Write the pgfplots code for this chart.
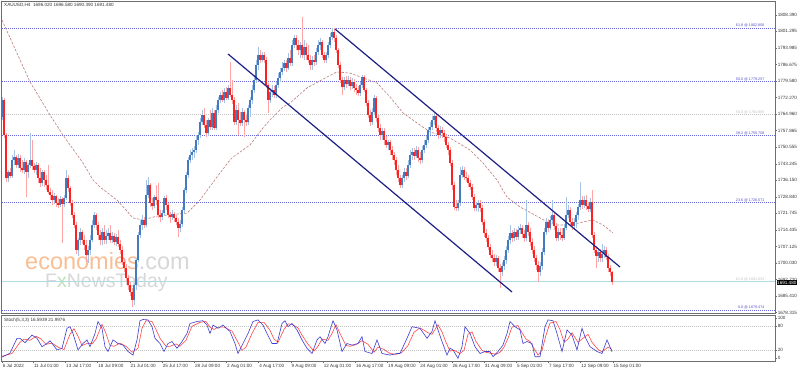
\documentclass[border=0pt]{standalone}
\usepackage{pgfplots}
\usepackage{pgfplotstable}
\pgfplotsset{compat=1.18}
\usepackage{fontspec}
\setmainfont{Liberation Sans}

\definecolor{bullc}{RGB}{70,122,190}
\definecolor{bullw}{RGB}{165,195,228}
\definecolor{bearc}{RGB}{255,32,32}
\definecolor{bearw}{RGB}{255,165,165}
\definecolor{fibc}{RGB}{105,105,215}
\definecolor{fibt}{RGB}{80,80,200}
\definecolor{fibg}{RGB}{195,195,195}
\definecolor{fibcy}{RGB}{175,220,228}
\definecolor{chan}{RGB}{30,30,135}
\definecolor{mac}{RGB}{190,125,125}
\definecolor{stk}{RGB}{60,60,210}
\definecolor{std}{RGB}{255,70,70}
\definecolor{frm}{RGB}{110,110,110}
\definecolor{txt}{RGB}{55,55,55}
\definecolor{wmor}{RGB}{250,190,148}
\definecolor{wmgr}{RGB}{215,215,215}
\definecolor{wmgn}{RGB}{190,225,190}

\pgfplotstableread{
i O H L C
0 1763.8 1772.6 1762.5 1771.2
3 1737.1 1740.6 1735.4 1739.8
5 1738.0 1747.2 1737.1 1745.0
6 1745.0 1749.4 1742.8 1746.3
8 1742.8 1747.6 1741.5 1745.9
11 1740.6 1745.9 1738.9 1744.1
13 1739.8 1743.7 1737.1 1742.8
14 1742.8 1756.8 1741.5 1745.0
17 1740.6 1744.1 1738.5 1742.8
20 1735.0 1740.6 1733.7 1739.8
26 1727.5 1730.6 1725.8 1729.3
29 1725.3 1729.3 1724.5 1728.0
31 1725.8 1729.7 1724.5 1728.4
32 1728.4 1740.6 1727.5 1737.1
38 1705.7 1710.9 1703.1 1710.1
39 1710.1 1715.3 1707.9 1713.6
43 1703.5 1707.4 1700.0 1705.7
44 1705.7 1712.2 1703.5 1710.1
45 1710.1 1718.8 1709.2 1716.6
46 1716.6 1722.3 1715.3 1721.0
50 1710.1 1715.3 1707.9 1713.6
52 1710.1 1714.4 1708.3 1711.8
53 1711.8 1715.3 1710.1 1713.1
55 1710.1 1713.5 1708.7 1711.8
57 1709.2 1712.7 1707.4 1711.4
66 1683.8 1691.3 1681.6 1690.4
67 1690.4 1702.2 1688.2 1701.3
68 1701.3 1713.5 1700.4 1712.2
69 1712.2 1718.8 1710.9 1716.6
70 1716.6 1721.0 1714.4 1718.8
72 1716.6 1736.3 1715.7 1729.7
73 1729.7 1737.6 1728.4 1734.1
76 1724.9 1729.7 1724.0 1728.8
80 1720.1 1723.2 1718.8 1721.9
81 1721.9 1729.3 1720.5 1728.4
85 1720.1 1723.2 1718.8 1721.4
89 1715.3 1718.8 1713.5 1717.0
90 1717.0 1724.5 1715.7 1723.2
91 1723.2 1732.8 1721.9 1731.9
92 1731.9 1739.8 1730.6 1738.5
93 1738.5 1746.3 1737.1 1745.0
94 1745.0 1749.4 1743.7 1747.2
95 1747.2 1750.3 1745.0 1748.5
96 1748.5 1751.1 1745.9 1749.4
97 1749.4 1755.9 1748.1 1753.8
98 1753.8 1757.3 1751.6 1755.9
99 1755.9 1763.4 1754.6 1761.6
100 1761.6 1766.9 1760.3 1764.7
103 1756.8 1763.4 1755.5 1762.5
105 1759.4 1767.7 1758.1 1765.6
107 1759.0 1769.0 1758.1 1766.9
108 1766.9 1772.6 1765.6 1771.2
109 1771.2 1774.7 1769.9 1773.4
111 1771.2 1776.5 1769.9 1774.7
113 1772.1 1777.8 1771.2 1776.5
117 1761.6 1769.0 1760.3 1766.9
120 1761.2 1767.7 1759.9 1766.0
123 1761.6 1769.0 1760.3 1767.7
124 1767.7 1772.6 1763.8 1771.2
125 1771.2 1777.8 1769.5 1775.6
126 1775.6 1782.2 1774.3 1780.0
127 1780.0 1788.7 1778.7 1786.5
128 1786.5 1794.4 1784.4 1790.9
130 1788.7 1792.2 1787.9 1790.9
134 1771.2 1776.5 1769.9 1774.7
135 1774.7 1777.8 1772.6 1775.6
137 1773.4 1779.1 1772.1 1777.8
138 1777.8 1783.0 1776.5 1780.9
139 1780.9 1785.2 1779.1 1783.5
140 1783.5 1787.9 1782.2 1785.2
141 1785.2 1788.7 1783.9 1787.4
143 1785.2 1791.8 1784.4 1789.6
145 1787.4 1797.5 1786.1 1795.3
146 1795.3 1799.7 1794.0 1798.3
149 1793.1 1796.6 1789.6 1795.3
151 1790.9 1797.5 1788.7 1794.4
155 1786.5 1790.5 1784.4 1788.7
157 1787.9 1794.0 1786.5 1792.2
158 1792.2 1797.5 1790.9 1795.3
159 1795.3 1798.3 1793.1 1796.6
162 1788.7 1792.2 1787.4 1790.9
163 1790.9 1796.6 1789.6 1795.3
164 1795.3 1800.5 1793.9 1798.8
165 1798.8 1802.7 1797.5 1801.0
171 1776.9 1781.3 1775.6 1780.0
173 1778.2 1781.7 1777.4 1780.0
175 1777.4 1780.9 1776.0 1779.1
179 1774.3 1779.1 1773.0 1777.8
180 1777.8 1782.2 1776.5 1781.3
185 1761.6 1767.7 1760.3 1766.0
186 1766.0 1773.4 1764.7 1772.1
190 1755.9 1759.0 1753.8 1757.7
193 1751.6 1753.8 1749.4 1752.9
200 1734.1 1738.5 1732.8 1737.1
201 1737.1 1741.5 1735.4 1739.8
203 1738.0 1745.0 1737.1 1742.8
204 1742.8 1749.4 1741.5 1747.2
205 1747.2 1750.3 1745.0 1748.5
207 1746.8 1751.1 1745.9 1749.4
210 1745.0 1751.1 1743.7 1749.4
211 1749.4 1753.8 1748.1 1751.6
212 1751.6 1755.5 1750.3 1753.8
213 1753.8 1759.4 1752.5 1758.1
214 1758.1 1761.6 1755.9 1759.4
215 1759.4 1764.2 1758.1 1762.5
216 1762.5 1765.6 1760.3 1764.2
219 1755.9 1759.9 1754.6 1758.1
228 1724.0 1727.5 1722.7 1726.2
229 1726.2 1742.0 1724.9 1738.5
230 1738.5 1742.4 1737.1 1740.6
237 1724.0 1726.7 1722.7 1725.3
238 1725.3 1727.5 1722.3 1726.2
247 1700.4 1703.5 1698.7 1702.2
250 1696.1 1700.4 1694.3 1698.7
251 1698.7 1703.1 1696.9 1701.3
252 1701.3 1707.4 1699.6 1705.7
253 1705.7 1711.8 1704.4 1710.1
254 1710.1 1716.6 1708.3 1713.1
256 1710.9 1715.3 1709.6 1713.5
258 1711.4 1716.2 1710.1 1714.4
259 1714.4 1717.0 1712.7 1715.3
262 1710.9 1727.5 1709.6 1716.6
269 1696.1 1700.4 1694.3 1698.7
270 1698.7 1706.6 1696.9 1704.8
271 1704.8 1715.3 1703.5 1713.5
272 1713.5 1719.7 1712.2 1717.9
274 1715.3 1720.5 1714.4 1718.8
275 1718.8 1727.5 1717.0 1721.0
278 1710.9 1715.3 1709.6 1713.5
281 1710.9 1717.0 1710.1 1715.3
282 1715.3 1728.8 1714.4 1721.0
283 1721.0 1725.3 1719.7 1723.2
286 1716.2 1719.7 1714.4 1717.9
287 1717.9 1722.3 1715.3 1721.0
288 1721.0 1725.8 1718.8 1724.5
289 1724.5 1735.4 1723.2 1727.5
291 1725.3 1729.3 1724.0 1727.5
294 1723.6 1728.4 1722.3 1726.7
298 1703.1 1706.6 1700.4 1704.8
300 1702.2 1708.3 1700.4 1703.9
301 1703.9 1707.4 1702.2 1705.7
}\bull

\pgfplotstableread{
i O H L C
1 1771.2 1772.1 1754.6 1755.9
2 1755.9 1756.8 1735.4 1737.1
4 1739.8 1741.5 1737.1 1738.0
7 1746.3 1747.2 1741.5 1742.8
9 1745.9 1747.2 1739.8 1741.5
10 1741.5 1745.0 1739.3 1740.6
12 1744.1 1745.0 1728.8 1739.8
15 1745.0 1753.8 1740.6 1742.4
16 1742.4 1743.7 1739.3 1740.6
18 1742.8 1743.7 1735.0 1737.1
19 1737.1 1741.5 1733.2 1735.0
21 1739.8 1740.6 1733.2 1736.3
22 1736.3 1738.5 1731.9 1734.1
23 1734.1 1742.8 1730.1 1731.0
24 1731.0 1732.8 1727.5 1729.7
25 1729.7 1731.9 1725.3 1727.5
27 1729.3 1729.7 1724.5 1726.2
28 1726.2 1728.4 1724.0 1725.3
30 1728.0 1728.8 1708.7 1725.8
33 1737.1 1738.5 1731.0 1732.8
34 1732.8 1733.7 1724.9 1726.2
35 1726.2 1727.5 1719.7 1721.0
36 1721.0 1722.3 1715.3 1716.6
37 1716.6 1717.9 1703.9 1705.7
40 1713.6 1714.4 1708.3 1710.1
41 1710.1 1712.2 1705.7 1707.9
42 1707.9 1710.1 1700.4 1703.5
47 1721.0 1721.9 1714.4 1716.6
48 1716.6 1717.9 1710.1 1712.2
49 1712.2 1714.4 1707.9 1710.1
51 1713.6 1716.6 1708.3 1710.1
54 1713.1 1716.6 1708.7 1710.1
56 1711.8 1713.1 1707.9 1709.2
58 1711.4 1714.4 1707.0 1708.3
59 1708.3 1710.1 1703.9 1705.7
60 1705.7 1707.4 1699.1 1700.4
61 1700.4 1702.2 1696.1 1697.8
62 1697.8 1699.5 1691.7 1693.4
63 1693.4 1694.7 1688.2 1690.4
64 1690.4 1691.7 1685.6 1687.3
65 1687.3 1689.1 1680.8 1683.8
71 1718.8 1720.1 1715.3 1716.6
74 1734.1 1735.0 1724.5 1726.2
75 1726.2 1728.4 1723.2 1724.9
77 1728.8 1734.1 1725.3 1727.5
78 1727.5 1735.0 1719.7 1721.0
79 1721.0 1723.2 1717.9 1720.1
82 1728.4 1729.7 1723.2 1725.3
83 1725.3 1726.2 1719.7 1721.0
84 1721.0 1722.3 1717.5 1720.1
86 1721.4 1722.3 1717.9 1719.7
87 1719.7 1721.0 1716.6 1717.9
88 1717.9 1719.7 1711.4 1715.3
101 1764.7 1767.7 1759.0 1760.3
102 1760.3 1762.5 1755.1 1756.8
104 1762.5 1766.9 1758.1 1759.4
106 1765.6 1766.9 1758.1 1759.0
110 1773.4 1775.6 1770.4 1771.2
112 1774.7 1776.9 1771.2 1772.1
114 1776.5 1787.9 1772.6 1773.4
115 1773.4 1780.0 1769.5 1771.2
116 1771.2 1772.6 1760.3 1761.6
118 1766.9 1769.9 1755.9 1762.5
119 1762.5 1766.0 1759.9 1761.2
121 1766.0 1766.9 1755.1 1762.5
122 1762.5 1764.7 1759.9 1761.6
129 1790.9 1793.1 1787.4 1788.7
131 1790.9 1792.2 1787.4 1788.7
132 1788.7 1790.0 1776.5 1777.8
133 1777.8 1778.7 1765.6 1771.2
136 1775.6 1777.4 1772.1 1773.4
142 1787.4 1788.7 1783.5 1785.2
144 1789.6 1793.1 1786.1 1787.4
147 1798.3 1799.7 1793.1 1795.3
148 1795.3 1797.5 1790.9 1793.1
150 1795.3 1807.5 1789.6 1790.9
152 1794.4 1796.2 1788.7 1790.9
153 1790.9 1795.3 1787.4 1788.7
154 1788.7 1790.9 1784.4 1786.5
156 1788.7 1790.9 1786.1 1787.9
160 1796.6 1797.5 1789.6 1790.9
161 1790.9 1792.2 1787.4 1788.7
166 1801.0 1802.7 1796.6 1798.3
167 1798.3 1799.7 1791.8 1793.1
168 1793.1 1794.0 1785.2 1786.5
169 1786.5 1787.9 1778.7 1780.0
170 1780.0 1781.3 1773.4 1776.9
172 1780.0 1781.7 1776.5 1778.2
174 1780.0 1781.3 1775.6 1777.4
176 1779.1 1780.4 1774.7 1776.5
177 1776.5 1778.2 1773.4 1775.6
178 1775.6 1777.4 1773.0 1774.3
181 1781.3 1782.2 1774.7 1775.6
182 1775.6 1776.5 1768.6 1769.9
183 1769.9 1771.2 1763.4 1764.7
184 1764.7 1766.9 1759.9 1761.6
187 1772.1 1773.0 1761.6 1763.4
188 1763.4 1764.7 1757.3 1759.0
189 1759.0 1760.7 1753.8 1755.9
191 1757.7 1759.0 1751.6 1753.8
192 1753.8 1755.5 1750.3 1751.6
194 1752.9 1753.8 1747.2 1749.4
195 1749.4 1751.1 1745.0 1747.2
196 1747.2 1748.5 1742.8 1745.0
197 1745.0 1746.3 1738.5 1740.6
198 1740.6 1742.8 1735.4 1737.1
199 1737.1 1738.5 1732.8 1734.1
202 1739.8 1741.5 1736.3 1738.0
206 1748.5 1750.3 1745.0 1746.8
208 1749.4 1750.7 1744.1 1745.9
209 1745.9 1748.5 1743.3 1745.0
217 1764.2 1765.6 1757.3 1759.0
218 1759.0 1760.3 1754.2 1755.9
220 1758.1 1759.4 1754.6 1756.8
221 1756.8 1758.1 1752.9 1755.1
222 1755.1 1756.4 1750.3 1751.6
223 1751.6 1752.9 1747.2 1749.4
224 1749.4 1750.7 1742.4 1743.7
225 1743.7 1745.0 1731.9 1734.1
226 1734.1 1735.4 1723.2 1724.5
227 1724.5 1727.5 1722.7 1724.0
231 1740.6 1742.0 1736.3 1737.6
232 1737.6 1739.8 1735.4 1737.1
233 1737.1 1738.5 1733.2 1735.0
234 1735.0 1736.3 1731.9 1733.2
235 1733.2 1734.5 1727.5 1728.8
236 1728.8 1730.2 1722.7 1724.0
239 1726.2 1727.5 1722.3 1724.0
240 1724.0 1725.3 1716.6 1717.9
241 1717.9 1719.2 1711.4 1713.1
242 1713.1 1714.9 1709.2 1710.9
243 1710.9 1712.2 1705.7 1707.0
244 1707.0 1708.3 1702.2 1703.5
245 1703.5 1705.7 1700.4 1702.2
246 1702.2 1703.9 1698.7 1700.4
248 1702.2 1703.1 1696.1 1697.8
249 1697.8 1699.5 1689.1 1696.1
255 1713.1 1714.4 1709.2 1710.9
257 1713.5 1714.9 1710.1 1711.4
260 1715.3 1716.6 1710.9 1712.7
261 1712.7 1714.4 1709.2 1710.9
263 1716.6 1717.9 1711.8 1713.5
264 1713.5 1715.3 1707.4 1709.2
265 1709.2 1710.9 1703.9 1705.7
266 1705.7 1707.4 1700.4 1702.2
267 1702.2 1703.5 1696.9 1699.1
268 1699.1 1700.9 1691.7 1696.1
273 1717.9 1719.2 1713.5 1715.3
276 1721.0 1722.3 1714.4 1716.2
277 1716.2 1717.5 1709.6 1710.9
279 1713.5 1715.3 1710.1 1712.2
280 1712.2 1715.3 1709.6 1710.9
284 1723.2 1724.5 1716.2 1717.9
285 1717.9 1719.7 1714.4 1716.2
290 1727.5 1729.3 1723.6 1725.3
292 1727.5 1729.7 1723.2 1724.9
293 1724.9 1726.7 1722.3 1723.6
295 1726.7 1731.9 1710.9 1712.2
296 1712.2 1713.5 1704.4 1705.7
297 1705.7 1707.4 1697.8 1703.1
299 1704.8 1706.1 1700.4 1702.2
302 1705.7 1707.0 1701.3 1702.6
303 1702.6 1703.9 1696.1 1697.8
304 1697.8 1699.1 1694.3 1696.1
305 1696.02 1696.58 1690.39 1691.48
}\bear

\newcommand{\smallf}{\fontsize{4.6}{5}\selectfont}
\newcommand{\fibf}{\fontsize{3.7}{4}\selectfont}

\begin{document}
\begin{tikzpicture}[x=1pt,y=1pt]
\fill[white] (0,0) rectangle (800,372);
% watermark
\node[anchor=base west, inner sep=0, font=\fontsize{23.5}{24}\selectfont] at (25,102) {\textcolor{wmor}{economies}\textcolor{wmgr}{.com}};
\node[anchor=base west, inner sep=0, font=\fontsize{19.5}{20}\selectfont, text=wmgr] at (45,84.5) {F\textcolor{wmgn}{x}NewsToday};

\begin{axis}[at={(1.5pt,58.5pt)}, anchor=south west, scale only axis,
  width=773.5pt, height=312.5pt,
  xmin=-0.25, xmax=386.5, ymin=1677.92, ymax=1814.51,
  axis line style={frm, line width=0.8pt},
  xtick=\empty,
  ytick={1678.315,1685.410,1692.720,1700.030,1707.125,1714.435,1721.745,1728.840,1736.150,1743.245,1750.555,1757.865,1764.960,1772.270,1779.580,1786.675,1793.985,1801.295,1808.390},
  yticklabels={1678.315,1685.410,1692.720,1700.030,1707.125,1714.435,1721.745,1728.840,1736.150,1743.245,1750.555,1757.865,1764.960,1772.270,1779.580,1786.675,1793.985,1801.295,1808.390},
  ytick pos=right, yticklabel pos=right, ytick align=outside,
  major tick length=2pt, tick style={frm, line width=0.5pt},
  yticklabel style={font=\smallf, text=txt, anchor=west, inner sep=0.6pt},
  clip=true]
% fib levels
\addplot[fibc, line width=0.5pt, dash pattern=on 0.6pt off 1.4pt] coordinates {(-0.2,1802.806) (386.4,1802.806)};
\addplot[fibc, line width=0.5pt, dash pattern=on 0.6pt off 1.4pt] coordinates {(-0.2,1779.257) (386.4,1779.257)};
\addplot[fibg, line width=0.5pt, dash pattern=on 0.6pt off 1.4pt] coordinates {(-0.2,1764.985) (386.4,1764.985)};
\addplot[fibc, line width=0.5pt, dash pattern=on 0.6pt off 1.4pt] coordinates {(-0.2,1755.708) (386.4,1755.708)};
\addplot[fibc, line width=0.5pt, dash pattern=on 0.6pt off 1.4pt] coordinates {(-0.2,1726.571) (386.4,1726.571)};
\addplot[fibcy, line width=0.5pt] coordinates {(-0.2,1691.853) (386.4,1691.853)};
\addplot[fibc, line width=0.5pt, dash pattern=on 0.6pt off 1.4pt] coordinates {(-0.2,1679.474) (386.4,1679.474)};
% moving average
\addplot[mac, line width=0.6pt, dash pattern=on 2.5pt off 1.5pt] coordinates {
(0,1806.2) (14,1779.1) (16.5,1775.6) (24,1764.7) (30.5,1755.9) (40.5,1743.7) (45.5,1736.3) (49,1733.2) (55.5,1728.8) (57.5,1727.5) (65.5,1719.7) (70.5,1718.8) (77.5,1720.5) (92.5,1721.8) (99,1727.5) (107.5,1737.6) (114,1745.0) (115.5,1746.3) (124,1751.6) (130.5,1759.0) (134,1762.5) (140.5,1768.2) (144,1769.9) (152.5,1776.5) (162.5,1781.3) (167.5,1783.5) (174,1783.0) (180.5,1780.9) (187.5,1778.7) (194,1772.6) (200.5,1765.6) (207.5,1761.2) (214,1757.3) (220.5,1755.5) (224,1754.6) (234,1749.4) (240.5,1743.7) (247.5,1736.3) (252.5,1728.8) (259,1724.5) (269,1719.7) (275.5,1716.6) (284,1716.6) (290.5,1717.9) (295.5,1718.8) (300.5,1716.6) (305.5,1713.1)};
% wicks
\addplot[draw=none, mark=none, error bars/.cd, y dir=plus, y explicit, error mark=none,
  error bar style={draw=bullw, line width=0.6pt, solid}]
  table[x=i, y=L, y error plus expr=\thisrow{H}-\thisrow{L}] {\bull};
\addplot[draw=none, mark=none, error bars/.cd, y dir=plus, y explicit, error mark=none,
  error bar style={draw=bearw, line width=0.6pt, solid}]
  table[x=i, y=L, y error plus expr=\thisrow{H}-\thisrow{L}] {\bear};
% bodies
\addplot[draw=none, mark=none, error bars/.cd, y dir=plus, y explicit, error mark=none,
  error bar style={draw=bullc, line width=1.5pt, solid}]
  table[x=i, y=O, y error plus expr=\thisrow{C}-\thisrow{O}] {\bull};
\addplot[draw=none, mark=none, error bars/.cd, y dir=plus, y explicit, error mark=none,
  error bar style={draw=bearc, line width=1.5pt, solid}]
  table[x=i, y=C, y error plus expr=\thisrow{O}-\thisrow{C}] {\bear};
% channel
\addplot[chan, line width=1.2pt] coordinates {(166.5,1802.27) (309,1698.24)};
\addplot[chan, line width=1.2pt] coordinates {(113,1791.35) (255,1687.32)};
% fib labels
\node[anchor=south east, inner sep=0.4pt, font=\fibf, text=fibt] at (axis cs:381.5,1802.806) {61.8 @ 1802.806};
\node[anchor=south east, inner sep=0.4pt, font=\fibf, text=fibt] at (axis cs:381.5,1779.257) {50.0 @ 1779.257};
\node[anchor=south east, inner sep=0.4pt, font=\fibf, text=fibg] at (axis cs:381.5,1764.985) {50.0 @ 1764.985};
\node[anchor=south east, inner sep=0.4pt, font=\fibf, text=fibt] at (axis cs:381.5,1755.708) {38.2 @ 1755.708};
\node[anchor=south east, inner sep=0.4pt, font=\fibf, text=fibt] at (axis cs:381.5,1726.571) {23.6 @ 1726.571};
\node[anchor=south east, inner sep=0.4pt, font=\fibf, text=fibg] at (axis cs:381.5,1691.853) {61.8 @ 1691.853};
\node[anchor=south east, inner sep=0.4pt, font=\fibf, text=fibt] at (axis cs:381.5,1679.474) {0.0 @ 1679.474};
\end{axis}

\begin{axis}[at={(1.5pt,11pt)}, anchor=south west, scale only axis,
  width=773.5pt, height=46pt,
  xmin=-0.25, xmax=386.5, ymin=-6.75, ymax=108.25,
  axis line style={frm, line width=0.8pt},
  ytick={0,20,80,100}, yticklabels={0,20,80,100},
  ytick pos=right, yticklabel pos=right, ytick align=outside,
  xtick={0,15.6,31.7,47.8,63.9,80.0,96.1,112.2,128.3,144.4,160.5,176.6,192.7,208.8,224.9,241.0,257.1,273.2,289.3,305.4},
  xticklabels={6 Jul 2022,11 Jul 01:00,13 Jul 17:00,18 Jul 09:00,21 Jul 01:00,25 Jul 17:00,28 Jul 09:00,2 Aug 01:00,4 Aug 17:00,9 Aug 09:00,12 Aug 01:00,16 Aug 17:00,19 Aug 09:00,24 Aug 01:00,26 Aug 17:00,31 Aug 09:00,5 Sep 01:00,7 Sep 17:00,12 Sep 09:00,15 Sep 01:00},
  xtick pos=bottom, xtick align=outside,
  major tick length=2pt, tick style={frm, line width=0.5pt},
  yticklabel style={font=\smallf, text=txt, anchor=west, inner sep=0.6pt},
  xticklabel style={font=\smallf, text=txt, anchor=north west, inner sep=0.6pt},
  clip=true]
\addplot[fibg, line width=0.5pt, dash pattern=on 0.6pt off 1.4pt] coordinates {(-0.2,80) (386.4,80)};
\addplot[fibg, line width=0.5pt, dash pattern=on 0.6pt off 1.4pt] coordinates {(-0.2,20) (386.4,20)};
\addplot[std, line width=0.6pt] coordinates {
(0,5) (5,12) (9,40) (11,48) (14,45) (17,55) (19,50) (22,35) (25,38) (28,28) (31,22) (34,60) (36,74) (38,55) (40,32) (43,38) (45,36) (47,48) (50,85) (52,62) (54,32) (56,30) (59,38) (62,30) (65,15) (68,25) (70,75) (72,94) (75,92) (77,72) (79,50) (82,30) (84,30) (87,36) (89,30) (92,45) (95,80) (99,90) (102,92) (104,78) (106,72) (108,78) (111,78) (115,68) (118,40) (120,20) (122,28) (125,62) (128,90) (131,90) (134,70) (136,48) (138,40) (141,72) (143,86) (145,85) (148,76) (150,58) (153,35) (156,18) (158,30) (160,48) (163,45) (165,62) (167,84) (169,62) (172,32) (174,30) (177,34) (180,44) (183,35) (186,15) (188,28) (191,22) (194,12) (197,10) (200,15) (203,32) (206,65) (209,76) (213,64) (215,60) (218,84) (220,66) (222,40) (224,18) (226,20) (229,12) (231,20) (233,60) (235,66) (237,42) (240,20) (242,15) (245,12) (247,10) (249,15) (251,28) (253,50) (255,78) (258,82) (260,64) (262,48) (264,42) (266,25) (268,8) (270,20) (272,58) (274,88) (277,92) (279,72) (281,40) (283,48) (285,64) (288,40) (291,52) (293,60) (295,40) (298,22) (300,16) (303,28) (305,22)};
\addplot[stk, line width=0.6pt] coordinates {
(0,3) (4,13) (7.5,50) (9,50) (11.5,39) (15,58) (17.5,50) (20,29) (22.5,37) (24,44) (27.5,21) (30,25) (32.5,75) (34,79) (35.5,62) (38,21) (40.5,37) (42.5,46) (44,29) (46.5,62) (48,92) (50,75) (51.5,29) (53,17) (55.5,46) (58,37) (60.5,33) (63,17) (65.5,8) (67.5,46) (69,94) (70.5,97) (73,96) (75,79) (76.5,50) (79,37) (81,17) (83,37) (85,42) (87.5,25) (90,42) (92.5,62) (94,87) (97.5,92) (100.5,94) (102.5,83) (104,62) (105.5,83) (108,75) (110.5,83) (114,67) (116.5,37) (118,12) (120.5,37) (123,62) (125.5,92) (128,96) (130.5,83) (132.5,62) (135,37) (137.5,37) (140,87) (141.5,94) (143,79) (145,87) (147.5,71) (150,46) (152.5,25) (155,12) (157.5,46) (159,54) (161.5,37) (163,54) (165.5,94) (167.5,71) (170,17) (172.5,37) (175,33) (178,37) (180,54) (181.5,17) (185,12) (187.5,46) (190,12) (194,8) (197.5,12) (199,12) (202.5,50) (205,79) (209,75) (212.5,50) (215,67) (216.5,94) (218,71) (220,42) (222.5,8) (224,25) (225.5,21) (228,0) (230,29) (231.5,79) (234,62) (236.5,29) (239,12) (241.5,17) (244,17) (245.5,4) (248,17) (250.5,33) (252.5,62) (254,92) (256.5,79) (259,71) (260.5,37) (262.5,42) (265,37) (266.5,4) (269,4) (271.5,79) (273,96) (275.5,94) (277.5,62) (280,17) (282.5,71) (285,58) (287.5,21) (290,75) (291.5,54) (294,29) (297.5,17) (300,12) (302.5,46) (305,16.6)};
\end{axis}

% texts
\node[anchor=west, inner sep=0, font=\smallf, text=txt] at (4,366.5) {XAUUSD,H4\ \ 1696.020 1696.580 1690.390 1691.480};
\node[anchor=west, inner sep=0, font=\smallf, text=txt] at (4,52) {Stoch(5,3,3) 16.5939 21.9976};
\node[anchor=west, fill=black, text=white, inner sep=0.7pt, font=\smallf] at (776.3,89.5) {1691.480};
\pgfresetboundingbox
\path[use as bounding box] (0,0) rectangle (800,372);
\end{tikzpicture}
\end{document}
